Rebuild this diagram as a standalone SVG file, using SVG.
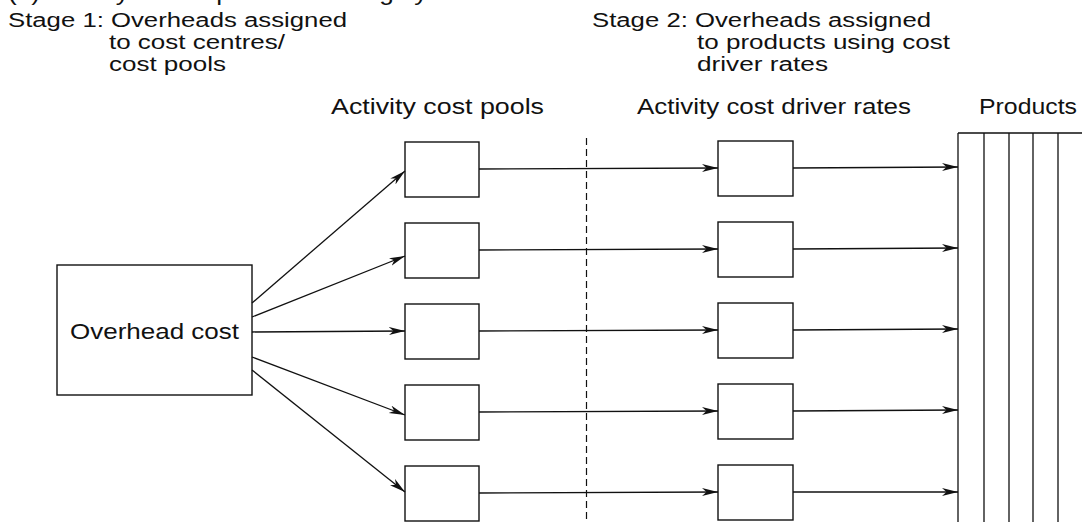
<svg xmlns="http://www.w3.org/2000/svg" width="1082" height="522" viewBox="0 0 1082 522">
<style>
text{font-family:"Liberation Sans",Arial,sans-serif;font-size:22px;fill:#111}
.st{font-size:19.5px}
.box{fill:#fff;stroke:#111;stroke-width:1.4}
.ln{stroke:#111;stroke-width:1.3;fill:none}
.arr{stroke:#111;stroke-width:1.3;fill:none;marker-end:url(#ah)}
.dash{stroke:#111;stroke-width:1.2;stroke-dasharray:7 4;fill:none}
</style>
<defs>
<marker id="ah" markerUnits="userSpaceOnUse" markerWidth="17" markerHeight="9" refX="16" refY="4" orient="auto">
<path d="M0,0 L16,4 L0,8 L4.5,4 z" fill="#111"/>
</marker>
</defs>
<rect width="1082" height="522" fill="#fff"/>
<g id="title">
<text x="8" y="0" textLength="476" lengthAdjust="spacingAndGlyphs">(b) Activity-based product costing system</text>
</g>
<g id="stage1">
<text class="st" x="8" y="27" textLength="339" lengthAdjust="spacingAndGlyphs">Stage 1: Overheads assigned</text>
<text class="st" x="109" y="49" textLength="176" lengthAdjust="spacingAndGlyphs">to cost centres/</text>
<text class="st" x="109" y="71" textLength="117" lengthAdjust="spacingAndGlyphs">cost pools</text>
</g>
<g id="stage2">
<text class="st" x="592" y="27" textLength="339" lengthAdjust="spacingAndGlyphs">Stage 2: Overheads assigned</text>
<text class="st" x="697" y="49" textLength="253" lengthAdjust="spacingAndGlyphs">to products using cost</text>
<text class="st" x="697" y="71" textLength="131" lengthAdjust="spacingAndGlyphs">driver rates</text>
</g>
<g id="headers">
<text x="331" y="114" textLength="213" lengthAdjust="spacingAndGlyphs">Activity cost pools</text>
<text x="637" y="114" textLength="274" lengthAdjust="spacingAndGlyphs">Activity cost driver rates</text>
<text x="979" y="114" textLength="98" lengthAdjust="spacingAndGlyphs">Products</text>
</g>
<g id="overhead">
<rect class="box" x="57" y="265" width="195" height="130"/>
<text x="70" y="339" textLength="169" lengthAdjust="spacingAndGlyphs">Overhead cost</text>
</g>
<g id="pools">
<rect class="box" x="405" y="142" width="74" height="55"/>
<rect class="box" x="405" y="223" width="74" height="55"/>
<rect class="box" x="405" y="304" width="74" height="55"/>
<rect class="box" x="405" y="385" width="74" height="55"/>
<rect class="box" x="405" y="466" width="74" height="55"/>
</g>
<g id="rates">
<rect class="box" x="718" y="141" width="75" height="55"/>
<rect class="box" x="718" y="222" width="75" height="55"/>
<rect class="box" x="718" y="303" width="75" height="55"/>
<rect class="box" x="718" y="384" width="75" height="55"/>
<rect class="box" x="718" y="465" width="75" height="55"/>
</g>
<g id="products">
<path class="ln" d="M958,133 H1082 M958,133 V522 M984,133 V522 M1009,133 V522 M1033,133 V522 M1058,133 V522"/>
</g>
<g id="connectors">
<line class="arr" x1="252" y1="303" x2="405" y2="171"/>
<line class="arr" x1="252" y1="317" x2="405" y2="256"/>
<line class="arr" x1="252" y1="332" x2="405" y2="331"/>
<line class="arr" x1="252" y1="357" x2="405" y2="415"/>
<line class="arr" x1="252" y1="370" x2="405" y2="492"/>
<line class="arr" x1="479" y1="169" x2="718" y2="168"/>
<line class="arr" x1="479" y1="250" x2="718" y2="249"/>
<line class="arr" x1="479" y1="331" x2="718" y2="330"/>
<line class="arr" x1="479" y1="412" x2="718" y2="411"/>
<line class="arr" x1="479" y1="493" x2="718" y2="492"/>
<line class="arr" x1="793" y1="168" x2="958" y2="167"/>
<line class="arr" x1="793" y1="249" x2="958" y2="248"/>
<line class="arr" x1="793" y1="330" x2="958" y2="329"/>
<line class="arr" x1="793" y1="411" x2="958" y2="410"/>
<line class="arr" x1="793" y1="492" x2="958" y2="492"/>
<line class="dash" x1="586.5" y1="138" x2="586.5" y2="522"/>
</g>
</svg>
